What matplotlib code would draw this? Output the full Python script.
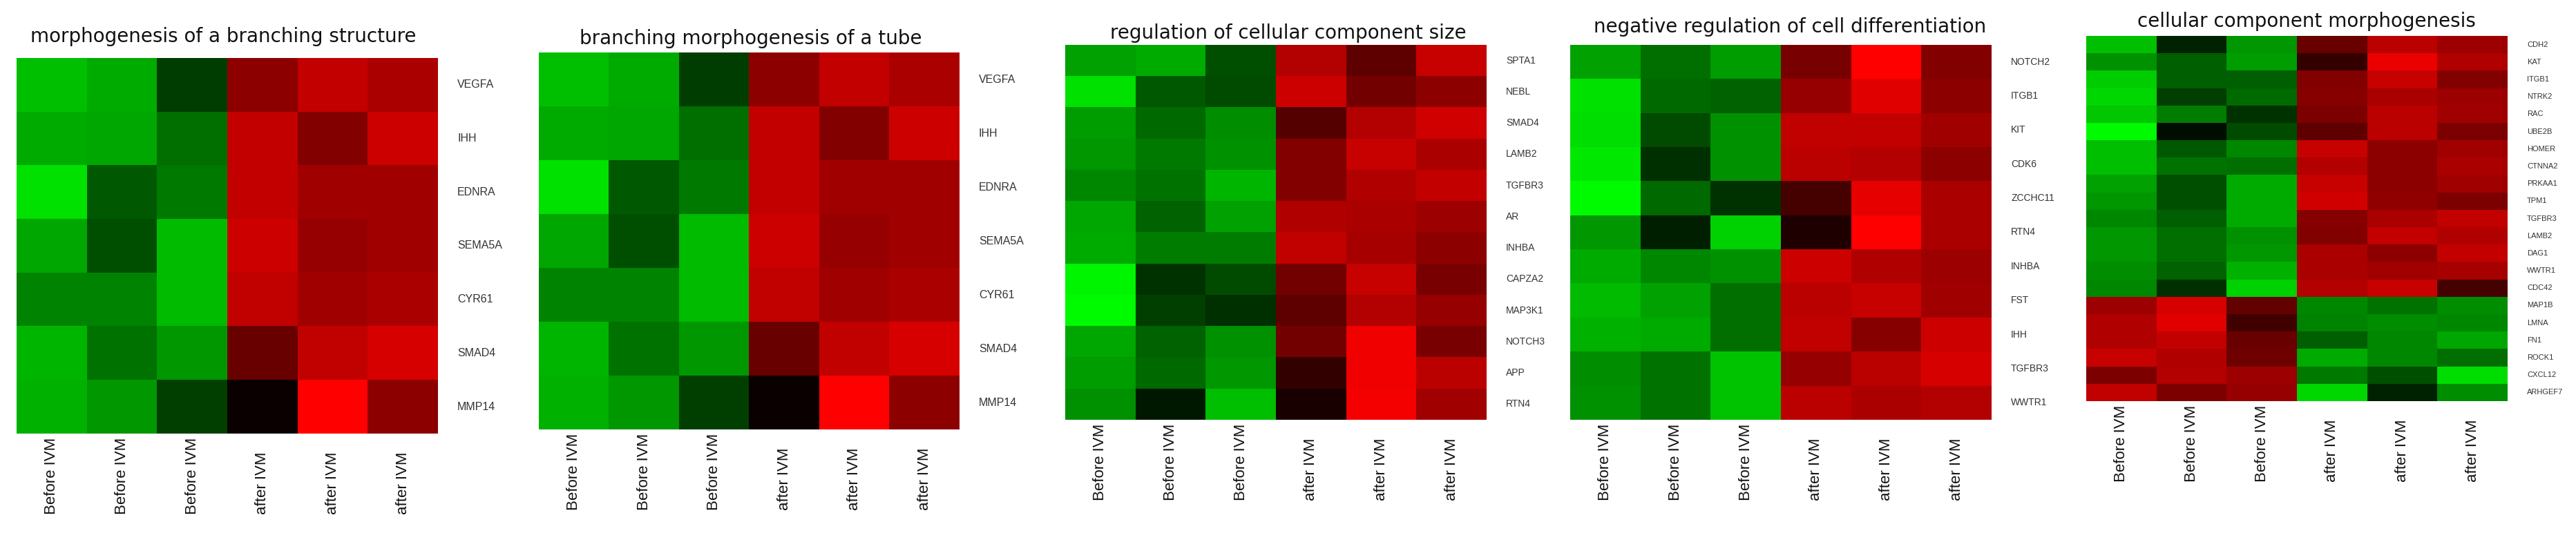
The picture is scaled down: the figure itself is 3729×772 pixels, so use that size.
import matplotlib
matplotlib.use("Agg")
import matplotlib.pyplot as plt
import numpy as np
from matplotlib.colors import LinearSegmentedColormap

# ---------------- data ----------------
conditions = ["Before IVM", "Before IVM", "Before IVM", "after IVM", "after IVM", "after IVM"]

titles = [
    "morphogenesis of a branching structure",
    "branching morphogenesis of a tube",
    "regulation of cellular component size",
    "negative regulation of cell differentiation",
    "cellular component morphogenesis",
]

genes1 = ["VEGFA", "IHH", "EDNRA", "SEMA5A", "CYR61", "SMAD4", "MMP14"]
values1 = [
    [-0.75, -0.67, -0.24, 0.55, 0.76, 0.67],
    [-0.67, -0.65, -0.43, 0.76, 0.51, 0.80],
    [-0.88, -0.35, -0.47, 0.76, 0.63, 0.63],
    [-0.65, -0.31, -0.73, 0.80, 0.59, 0.63],
    [-0.51, -0.51, -0.73, 0.75, 0.63, 0.67],
    [-0.71, -0.45, -0.59, 0.41, 0.75, 0.84],
    [-0.69, -0.59, -0.25, 0.04, 1.00, 0.55],
]

genes2 = ["VEGFA", "IHH", "EDNRA", "SEMA5A", "CYR61", "SMAD4", "MMP14"]
values2 = [
    [-0.75, -0.67, -0.24, 0.55, 0.76, 0.67],
    [-0.67, -0.65, -0.43, 0.76, 0.51, 0.80],
    [-0.88, -0.35, -0.47, 0.76, 0.63, 0.63],
    [-0.65, -0.31, -0.73, 0.80, 0.59, 0.63],
    [-0.51, -0.51, -0.73, 0.75, 0.63, 0.67],
    [-0.71, -0.45, -0.59, 0.41, 0.75, 0.84],
    [-0.69, -0.59, -0.25, 0.04, 1.00, 0.55],
]

genes3 = ["SPTA1", "NEBL", "SMAD4", "LAMB2", "TGFBR3", "AR", "INHBA",
          "CAPZA2", "MAP3K1", "NOTCH3", "APP", "RTN4"]
values3 = [
    [-0.63, -0.67, -0.31, 0.70, 0.37, 0.78],
    [-0.88, -0.35, -0.29, 0.80, 0.45, 0.55],
    [-0.61, -0.41, -0.55, 0.33, 0.70, 0.82],
    [-0.59, -0.47, -0.57, 0.51, 0.78, 0.67],
    [-0.53, -0.45, -0.71, 0.51, 0.69, 0.76],
    [-0.65, -0.39, -0.63, 0.69, 0.67, 0.61],
    [-0.67, -0.49, -0.49, 0.75, 0.65, 0.55],
    [-0.96, -0.20, -0.29, 0.45, 0.78, 0.47],
    [-0.98, -0.25, -0.18, 0.37, 0.70, 0.59],
    [-0.65, -0.39, -0.57, 0.45, 0.94, 0.47],
    [-0.61, -0.41, -0.59, 0.20, 0.94, 0.73],
    [-0.57, -0.10, -0.75, 0.10, 0.96, 0.63],
]

genes4 = ["NOTCH2", "ITGB1", "KIT", "CDK6", "ZCCHC11", "RTN4", "INHBA",
          "FST", "IHH", "TGFBR3", "WWTR1"]
values4 = [
    [-0.63, -0.43, -0.61, 0.47, 1.00, 0.51],
    [-0.88, -0.41, -0.39, 0.59, 0.88, 0.55],
    [-0.86, -0.29, -0.57, 0.75, 0.76, 0.63],
    [-0.90, -0.18, -0.57, 0.73, 0.70, 0.55],
    [-0.98, -0.41, -0.20, 0.27, 0.90, 0.67],
    [-0.59, -0.12, -0.82, 0.12, 1.00, 0.67],
    [-0.67, -0.53, -0.57, 0.80, 0.69, 0.61],
    [-0.73, -0.63, -0.43, 0.73, 0.78, 0.63],
    [-0.69, -0.67, -0.43, 0.75, 0.53, 0.80],
    [-0.55, -0.45, -0.76, 0.59, 0.73, 0.84],
    [-0.57, -0.45, -0.76, 0.73, 0.67, 0.70],
]

genes5 = ["CDH2", "KAT", "ITGB1", "NTRK2", "RAC", "UBE2B", "HOMER",
          "CTNNA2", "PRKAA1", "TPM1", "TGFBR3", "LAMB2", "DAG1", "WWTR1",
          "CDC42", "MAP1B", "LMNA", "FN1", "ROCK1", "CXCL12", "ARHGEF7"]
values5 = [
    [-0.75, -0.14, -0.59, 0.41, 0.73, 0.61],
    [-0.57, -0.37, -0.61, 0.20, 0.92, 0.69],
    [-0.80, -0.37, -0.37, 0.51, 0.78, 0.51],
    [-0.84, -0.25, -0.41, 0.53, 0.67, 0.61],
    [-0.78, -0.49, -0.20, 0.49, 0.73, 0.63],
    [-0.98, -0.05, -0.29, 0.37, 0.73, 0.49],
    [-0.75, -0.35, -0.53, 0.78, 0.55, 0.63],
    [-0.75, -0.45, -0.43, 0.70, 0.55, 0.67],
    [-0.63, -0.31, -0.67, 0.78, 0.55, 0.63],
    [-0.59, -0.31, -0.67, 0.82, 0.57, 0.49],
    [-0.53, -0.37, -0.67, 0.53, 0.67, 0.76],
    [-0.59, -0.43, -0.57, 0.51, 0.76, 0.69],
    [-0.59, -0.43, -0.59, 0.67, 0.55, 0.76],
    [-0.55, -0.39, -0.69, 0.67, 0.63, 0.65],
    [-0.53, -0.18, -0.82, 0.70, 0.78, 0.27],
    [0.61, 0.84, 0.39, -0.53, -0.45, -0.55],
    [0.69, 0.88, 0.25, -0.51, -0.55, -0.53],
    [0.69, 0.76, 0.41, -0.37, -0.53, -0.65],
    [0.78, 0.69, 0.43, -0.67, -0.53, -0.43],
    [0.49, 0.70, 0.61, -0.47, -0.31, -0.86],
    [0.75, 0.49, 0.59, -0.84, -0.14, -0.55],
]

panel_genes = [genes1, genes2, genes3, genes4, genes5]
panel_values = [values1, values2, values3, values4, values5]

# ---------------- layout (pixels) ----------------
W, H = 3729, 772
DPI = 100
# left, right, top, bottom of each heatmap in pixels
boxes = [
    (24, 634, 84, 628),
    (780, 1389, 76, 622),
    (1542, 2152, 65, 608),
    (2273, 2883, 65, 608),
    (3020, 3630, 52, 581),
]
title_pads = [16.5, 9.0, 6.5, 13.0, 9.4]
title_dx = [-0.01, 0.004, 0.03, 0.021, 0.023]
gene_sizes = [11.5, 11.5, 10, 10, 8]

cmap = LinearSegmentedColormap.from_list(
    "gr", [(0.0, (0, 1, 0)), (0.5, (0, 0, 0)), (1.0, (1, 0, 0))])

fig = plt.figure(figsize=(W / DPI, H / DPI), dpi=DPI)
fig.patch.set_facecolor("white")

for k in range(5):
    l, r, t, b = boxes[k]
    ax = fig.add_axes([l / W, 1 - b / H, (r - l) / W, (b - t) / H])
    data = np.array(panel_values[k])
    genes = panel_genes[k]
    ax.imshow(data, cmap=cmap, vmin=-1, vmax=1, aspect="auto",
              interpolation="nearest")
    for s in ax.spines.values():
        s.set_visible(False)
    ax.set_xticks([])
    ax.set_yticks([])
    ax.set_title(titles[k], fontsize=20, family="DejaVu Sans", color="#111111",
                 pad=title_pads[k], x=0.5 + title_dx[k])
    # gene labels on the right
    for i, g in enumerate(genes):
        ax.annotate(g, xy=(1.0, i), xycoords=("axes fraction", "data"),
                    xytext=(28, 0), textcoords="offset pixels",
                    ha="left", va="center", fontsize=gene_sizes[k],
                    family="Liberation Sans", color="#333333")
    # condition labels below, bottom-aligned
    for j, c in enumerate(conditions):
        ax.annotate(c, xy=(j, 0.0), xycoords=("data", "axes fraction"),
                    xytext=(0, -117), textcoords="offset pixels",
                    rotation=90, ha="center", va="bottom", fontsize=16,
                    family="Liberation Sans", color="#111111")

fig.savefig("out.png", dpi=DPI, facecolor="white")
